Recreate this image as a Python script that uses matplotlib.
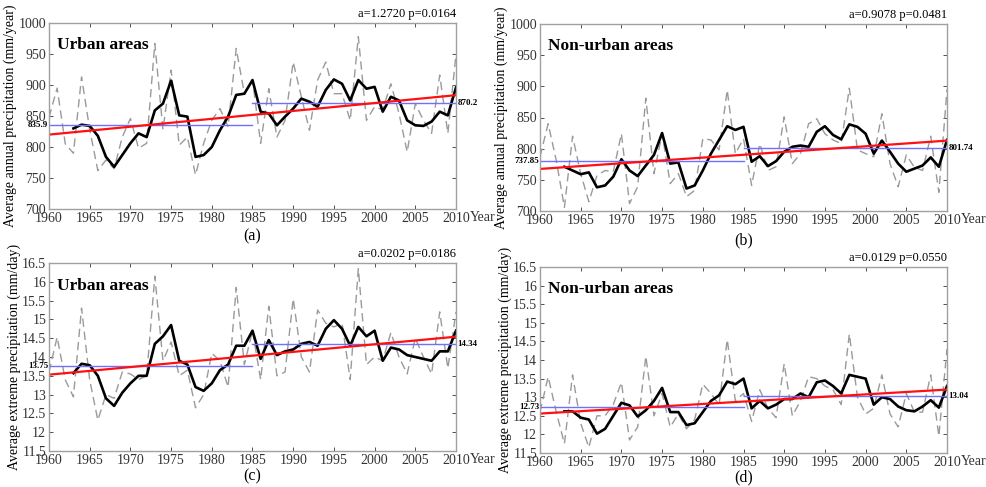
import numpy as np
import matplotlib
matplotlib.use("Agg")
import matplotlib.pyplot as plt
from matplotlib.transforms import offset_copy

plt.rcParams["font.family"] = ["Liberation Serif", "DejaVu Serif"]

years = np.arange(1960, 2011)
smooth_years = np.arange(1963, 2011)

# (a) urban annual precipitation (mm/year)
annual_urban = [848, 895, 805, 790, 913, 828, 762, 779, 765, 816,
                846, 798, 806, 967, 828, 924, 803, 816, 755, 806,
                843, 862, 833, 959, 886, 908, 806, 894, 816, 843,
                937, 881, 827, 908, 937, 886, 886, 843, 978, 843,
                865, 860, 902, 854, 792, 870, 843, 822, 916, 822, 950]
annual_urban_smooth = [830, 836, 834, 818, 784, 768, 787, 806, 822, 816,
                       859, 870, 907, 851, 849, 784, 787, 800, 827, 849,
                       884, 886, 908, 857, 854, 835, 849, 862, 878, 873,
                       865, 892, 909, 902, 875, 908, 894, 897, 857, 881,
                       875, 843, 835, 834, 841, 857, 851, 896]

# (b) non-urban annual precipitation (mm/year)
annual_rural = [787, 840, 781, 706, 820, 760, 715, 757, 765, 763,
                824, 712, 739, 881, 760, 824, 744, 760, 723, 733,
                816, 814, 798, 894, 792, 816, 741, 808, 765, 771,
                851, 776, 792, 840, 848, 824, 814, 808, 897, 798,
                792, 787, 856, 776, 739, 790, 770, 765, 820, 730, 895]
annual_rural_smooth = [771, 765, 759, 762, 738, 741, 755, 783, 765, 756,
                       773, 790, 825, 776, 778, 736, 741, 765, 792, 814,
                       836, 830, 835, 779, 788, 772, 780, 795, 803, 805,
                       803, 827, 836, 822, 815, 839, 835, 824, 792, 813,
                       795, 776, 763, 768, 773, 786, 771, 814]

# (c) urban extreme precipitation (mm/day)
extreme_urban = [13.6, 14.53, 13.39, 12.94, 15.3, 13.39, 12.32, 13.0, 12.9, 13.6,
                 13.55, 13.4, 13.5, 16.15, 13.9, 14.4, 13.5, 13.65, 12.65, 13.0,
                 14.1, 13.9, 13.2, 15.85, 13.8, 14.7, 13.4, 15.35, 13.5, 13.6,
                 15.55, 14.0, 13.6, 15.25, 14.9, 14.8, 14.9, 13.4, 16.35, 13.8,
                 14.0, 13.9, 14.65, 14.0, 13.55, 14.5, 14.0, 13.55, 15.2, 13.7, 15.2]
extreme_urban_smooth = [13.57, 13.82, 13.78, 13.5, 12.9, 12.7, 13.05, 13.3, 13.5, 13.5,
                        14.35, 14.55, 14.85, 13.9, 13.8, 13.2, 13.1, 13.3, 13.65, 13.8,
                        14.3, 14.3, 14.7, 13.95, 14.45, 14.05, 14.15, 14.2, 14.35, 14.4,
                        14.3, 14.75, 14.98, 14.75, 14.3, 14.8, 14.55, 14.7, 13.9, 14.25,
                        14.2, 14.05, 14.0, 13.95, 13.9, 14.15, 14.15, 14.7]

# (d) non-urban extreme precipitation (mm/day)
extreme_rural = [12.6, 13.55, 12.6, 11.75, 13.6, 12.3, 11.65, 12.5, 12.5, 12.8,
                 13.4, 11.85, 12.2, 14.1, 12.5, 13.1, 12.2, 12.55, 12.15, 12.4,
                 13.35, 13.1, 12.8, 14.55, 12.9, 13.1, 12.35, 13.2, 12.7, 12.45,
                 13.9, 12.5, 12.9, 13.55, 13.5, 13.3, 13.2, 12.8, 14.7, 13.0,
                 12.55, 12.7, 13.6, 12.55, 12.2, 13.1, 12.6, 12.6, 13.6, 11.95, 14.3]
extreme_rural_smooth = [12.62, 12.62, 12.45, 12.4, 12.02, 12.15, 12.5, 12.85, 12.78, 12.48,
                        12.65, 12.9, 13.25, 12.6, 12.6, 12.25, 12.3, 12.6, 12.9, 13.05,
                        13.42, 13.35, 13.5, 12.7, 12.9, 12.7, 12.8, 12.95, 12.95, 13.1,
                        13.0, 13.4, 13.45, 13.3, 13.1, 13.6, 13.55, 13.5, 12.8, 13.0,
                        12.95, 12.75, 12.65, 12.62, 12.75, 12.92, 12.72, 13.3]

# linear trend: slope a and value at 1960
trend_slope = [1.2720, 0.9078, 0.0202, 0.0129]
trend_start = [820.0, 767.5, 13.53, 12.56]
p_values = ["0.0164", "0.0481", "0.0186", "0.0550"]

# sub-period means (1960-1985, 1985-2010) and their printed labels
period_means = [(835.9, 870.2), (779.5, 801.7), (13.75, 14.34), (12.73, 13.04)]
period_labels = [("835.9", "870.2"), ("737.85", "801.74"), ("13.75", "14.34"), ("12.73", "13.04")]

titles = ["Urban areas", "Non-urban areas", "Urban areas", "Non-urban areas"]
letters = ["(a)", "(b)", "(c)", "(d)"]
ylabels = ["Average annual precipitation (mm/year)"] * 2 + ["Average extreme precipitation (mm/day)"] * 2

raw = [annual_urban, annual_rural, extreme_urban, extreme_rural]
smooth = [annual_urban_smooth, annual_rural_smooth, extreme_urban_smooth, extreme_rural_smooth]

W, H = 987, 487
fig = plt.figure(figsize=(W / 100, H / 100), dpi=100)

# axes boxes in pixels: left, top, right, bottom; gap below axes for panel letter
boxes = [(49, 23, 456, 209), (540, 24, 947, 211), (49, 263, 456, 451), (540, 267, 947, 453)]
letter_gap = [27, 29, 25, 24]

for i, (l, t, r, b) in enumerate(boxes):
    ax = fig.add_axes([l / W, 1 - b / H, (r - l) / W, (b - t) / H])
    annual = i < 2

    ax.plot(years, raw[i], color="#9a9a9a", lw=1.0, dashes=(6, 3.5))
    ax.plot(smooth_years, smooth[i], color="black", lw=1.9)

    m1, m2 = period_means[i]
    ax.plot([1960, 1985], [m1, m1], color="#7070ff", lw=1.0)
    ax.plot([1985, 2010], [m2, m2], color="#7070ff", lw=1.0)

    trend = trend_start[i] + trend_slope[i] * (years - 1960)
    ax.plot(years, trend, color="#ff1010", lw=1.6)

    ax.set_xlim(1960, 2010)
    if annual:
        ax.set_ylim(700, 1000)
        ax.set_yticks(np.arange(700, 1001, 50))
        ax.set_yticklabels([str(v) for v in range(700, 1001, 50)])
    else:
        ax.set_ylim(11.5, 16.5)
        ax.set_yticks(np.arange(11.5, 16.51, 0.5))
        ax.set_yticklabels([f"{v:g}" for v in np.arange(11.5, 16.51, 0.5)])
    ax.set_xticks(np.arange(1960, 2011, 5))

    ax.tick_params(direction="in", top=True, right=True, length=3, width=0.6,
                   labelsize=10, colors="#333333", pad=2)
    for s in ax.spines.values():
        s.set_color("#a0a0a0")
        s.set_linewidth(1.0)

    ax.set_ylabel(ylabels[i], fontsize=10, labelpad=1)
    ax.text(0.02, 0.88, titles[i], transform=ax.transAxes, fontsize=12.5,
            fontweight="bold", va="center", ha="left")
    ax.text(1.0, 1.015, f"a={trend_slope[i]:.4f} p={p_values[i]}", transform=ax.transAxes,
            fontsize=9, ha="right", va="bottom")
    ax.text(0.5, -letter_gap[i] / (b - t), letters[i], transform=ax.transAxes,
            fontsize=11.5, ha="center", va="center")
    year_tr = offset_copy(ax.transAxes, fig=fig, x=14, y=-2, units="dots")
    ax.text(1.0, 0.0, "Year", transform=year_tr, fontsize=10,
            ha="left", va="top", color="#333333")

    lab1, lab2 = period_labels[i]
    ax.text(1959.9, m1, lab1, fontsize=6.5, fontweight="bold", ha="right", va="center")
    ax.text(2010.2, m2, lab2, fontsize=6.5, fontweight="bold", ha="left", va="center")

fig.savefig("out.png", dpi=100)
